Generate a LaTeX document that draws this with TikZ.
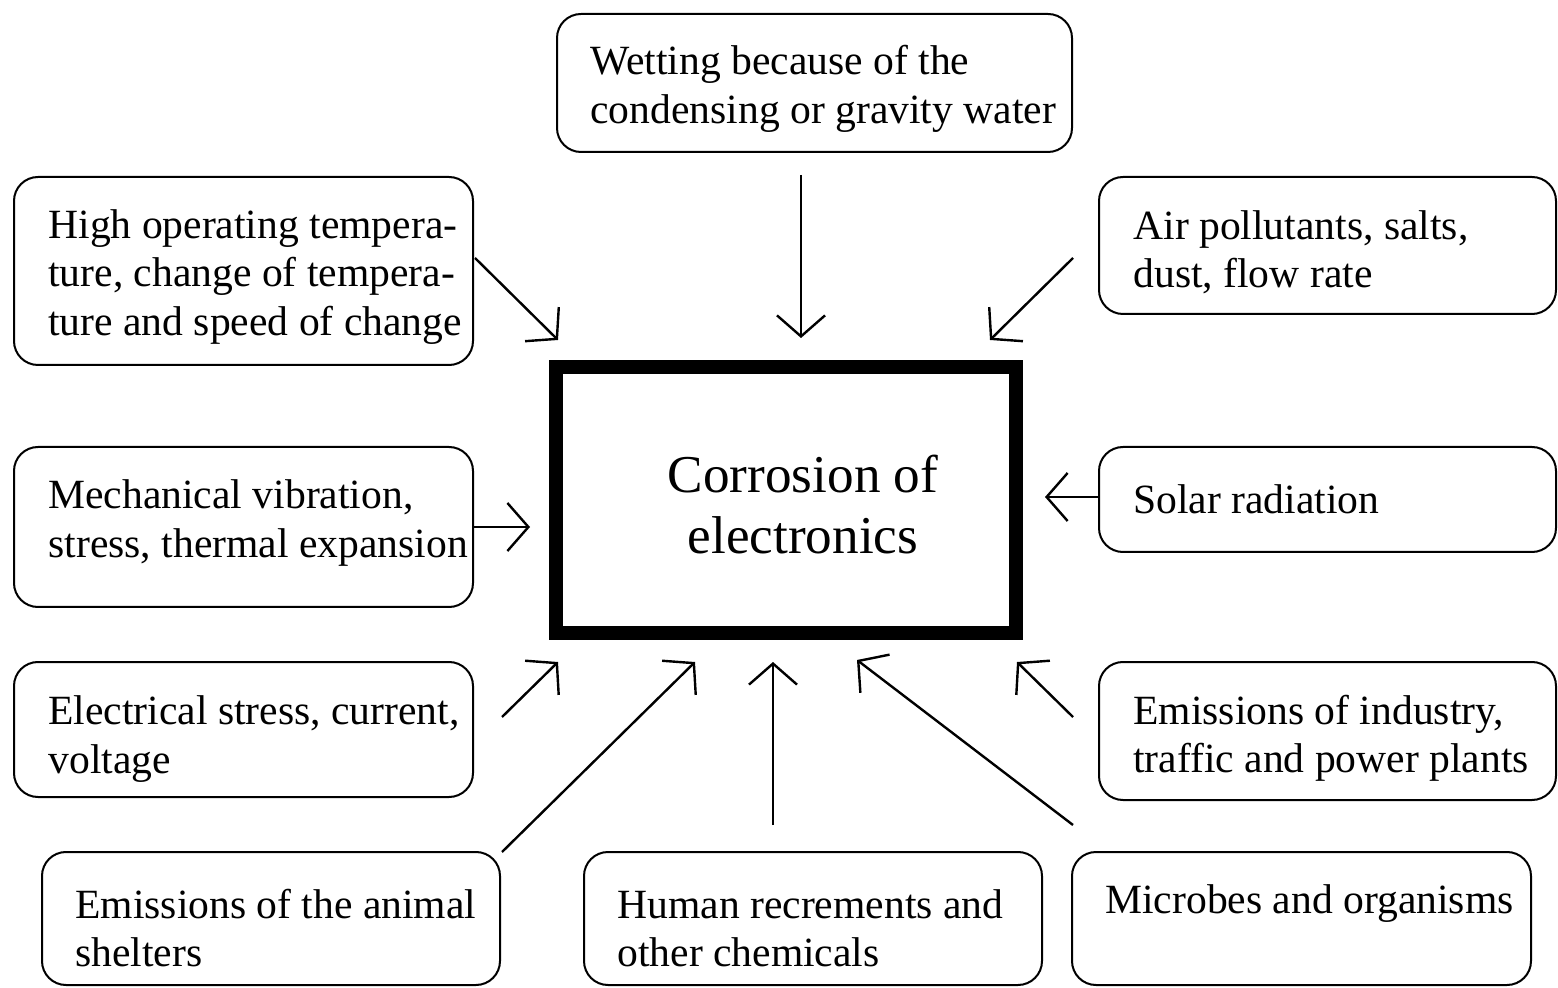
\documentclass[tikz,border=0pt]{standalone}
\usepackage{fontspec}
\setmainfont{Liberation Serif}
\usetikzlibrary{arrows.meta}
\begin{document}
\begin{tikzpicture}[x=0.5pt,y=-0.5pt,
  box/.style={draw=black,line width=1pt,rounded corners=12pt,inner sep=0pt},
  txt/.style={inner sep=0pt,anchor=west,align=left,font=\fontsize{20.8pt}{24.2pt}\selectfont},
  coretxt/.style={inner sep=0pt,align=center,font=\fontsize{26.6pt}{30.5pt}\selectfont},
  arr/.style={line width=1.2pt,-{Straight Barb[length=10.5pt,width=24pt,line width=1.2pt]}}]
\useasboundingbox (0,0) rectangle (1558,988);
% boxes
\node[box,minimum width=257.5pt,minimum height=69pt] (bW) at (814.5,83) {};
\node[box,minimum width=229.5pt,minimum height=94pt] (bH) at (243.5,271) {};
\node[box,minimum width=228.5pt,minimum height=68.5pt] (bA) at (1327.5,245.5) {};
\node[box,minimum width=229.5pt,minimum height=80pt] (bM) at (243.5,527) {};
\node[box,minimum width=228.5pt,minimum height=52.5pt] (bS) at (1327.5,499.5) {};
\node[box,minimum width=229.5pt,minimum height=67.5pt] (bE) at (243.5,729.5) {};
\node[box,minimum width=228.5pt,minimum height=69pt] (bI) at (1327.5,731) {};
\node[box,minimum width=229pt,minimum height=66.5pt] (bAn) at (271,918.5) {};
\node[box,minimum width=229pt,minimum height=66.5pt] (bHu) at (813,918.5) {};
\node[box,minimum width=229.5pt,minimum height=66.5pt] (bMi) at (1301.5,918.5) {};
\node[draw=black,line width=7pt,inner sep=0pt,minimum width=230pt,minimum height=133pt] (core) at (786,500) {};
% texts
\node[txt] (tW) at (590,89) {Wetting because of the\\condensing or gravity water};
\node[txt] (tH) at (48,277) {High operating tempera-\\ture, change of tempera-\\ture and speed of change};
\node[txt] (tA) at (1133,252) {Air pollutants, salts,\\dust, flow rate};
\node[txt] (tM) at (48,523) {Mechanical vibration,\\stress, thermal expansion};
\node[txt] (tS) at (1133,499) {Solar radiation};
\node[txt] (tE) at (48,739) {Electrical stress, current,\\voltage};
\node[txt] (tI) at (1133,738) {Emissions of industry,\\traffic and power plants};
\node[txt] (tAn) at (75,928) {Emissions of the animal\\shelters};
\node[txt] (tHu) at (617,928) {Human recrements and\\other chemicals};
\node[txt] (tMi) at (1105,904) {Microbes and organisms};
\node[coretxt] (tC) at (803,505) {Corrosion of\\electronics};
% connector ends
\coordinate (sH) at (475,258);   \coordinate (eH) at (558,340);
\coordinate (sW) at (801,175);   \coordinate (eW) at (801,338);
\coordinate (sA) at (1073,258);  \coordinate (eA) at (990,340);
\coordinate (sM) at (473,527);   \coordinate (eM) at (530,527);
\coordinate (sS) at (1099,497);  \coordinate (eS) at (1045,497);
\coordinate (sE) at (502,717);   \coordinate (eE) at (558,662);
\coordinate (sAn) at (502,852);  \coordinate (eAn) at (695,662);
\coordinate (sHu) at (773,825);  \coordinate (eHu) at (773,662);
\coordinate (sMi) at (1073,825); \coordinate (eMi) at (857,660);
\coordinate (sI) at (1073,717);  \coordinate (eI) at (1017,662);
\draw[arr] (sH) -- (eH);
\draw[arr] (sW) -- (eW);
\draw[arr] (sA) -- (eA);
\draw[arr] (sM) -- (eM);
\draw[arr] (sS) -- (eS);
\draw[arr] (sE) -- (eE);
\draw[arr] (sAn) -- (eAn);
\draw[arr] (sHu) -- (eHu);
\draw[arr] (sMi) -- (eMi);
\draw[arr] (sI) -- (eI);
\end{tikzpicture}
\end{document}
